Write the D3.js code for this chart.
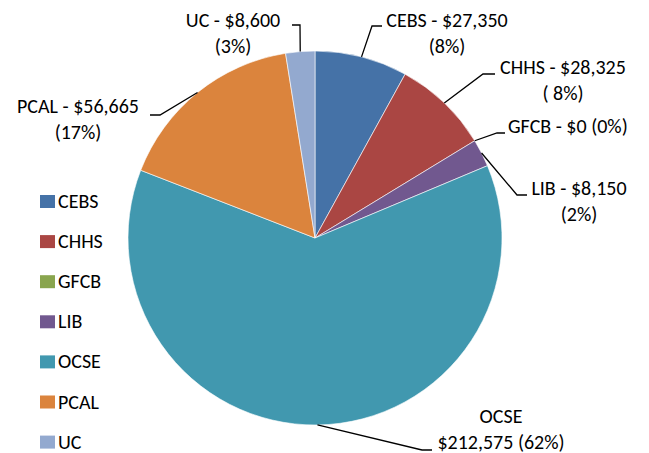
<!DOCTYPE html>
<html>
<head>
<meta charset="utf-8">
<script src="https://cdn.jsdelivr.net/npm/d3@7"></script>
<style>
  html, body { margin: 0; padding: 0; background: #fff; }
  svg text { font-family: Carlito, Calibri, "Open Sans", sans-serif; fill: #000; }
</style>
</head>
<body>
<svg id="chart" width="649" height="453"></svg>
<script>
// data
const categories = ["CEBS", "CHHS", "GFCB", "LIB", "OCSE", "PCAL", "UC"];
const amounts = [27350, 28325, 0, 8150, 212575, 56665, 8600];
const colors = ["#4572A7", "#AA4643", "#89A54E", "#71588F", "#4198AF", "#DB843D", "#93A9CF"];

// label placement (moved by hand in the original chart)
// x/y = text anchor of first line, ex/ey = leader end, elbow = x of bend
const labelLayout = [
  { x: 447, y: 27, ex: 382, ey: 26, elbow: 372, mode: "dash" },
  { x: 563, y: 74, ex: 495, ey: 74, elbow: 483, mode: "dash", pad: " " },
  { x: 508, y: 133, ex: 505, ey: 133, elbow: 497, mode: "one", anchor: "start" },
  { x: 579, y: 195, ex: 527, ey: 195, elbow: 517, mode: "dash" },
  { x: 501, y: 423, ex: 432, ey: 450, elbow: 422, mode: "name" },
  { x: 78, y: 113, ex: 150, ey: 115, elbow: 160, mode: "dash" },
  { x: 233, y: 27, ex: 292, ey: 25, elbow: 300, mode: "dash" }
];

const cx = 315, cy = 238, radius = 187;
const fontSize = 20, lineGap = 26;

const svg = d3.select("#chart");
const data = categories.map((c, i) => ({ name: c, value: amounts[i], color: colors[i], layout: labelLayout[i] }));
const total = d3.sum(amounts);
const money = d3.format(",");

const pie = d3.pie().value(d => d.value).sort(null);
const arc = d3.arc().innerRadius(0).outerRadius(radius);
const edge = d3.arc().innerRadius(radius).outerRadius(radius);

const g = svg.append("g").attr("transform", `translate(${cx},${cy})`);
const arcs = pie(data);

g.selectAll("path.slice")
  .data(arcs.filter(d => d.data.value > 0))
  .join("path")
  .attr("class", "slice")
  .attr("d", arc)
  .attr("fill", d => d.data.color)
  .attr("stroke", "#fff")
  .attr("stroke-width", 0.6);

// leader lines
svg.selectAll("path.leader")
  .data(arcs)
  .join("path")
  .attr("class", "leader")
  .attr("fill", "none")
  .attr("stroke", "#000")
  .attr("stroke-width", 1.3)
  .attr("d", d => {
    const mid = (d.startAngle + d.endAngle) / 2;
    const p = edge.centroid({ startAngle: mid, endAngle: mid });
    const L = d.data.layout;
    return d3.line()([[cx + p[0], cy + p[1]], [L.elbow, L.ey], [L.ex, L.ey]]);
  });

// data labels
const labels = svg.selectAll("text.dlabel")
  .data(arcs)
  .join("text")
  .attr("class", "dlabel")
  .style("font-size", fontSize + "px")
  .attr("text-anchor", d => d.data.layout.anchor || "middle");

labels.each(function(d) {
  const L = d.data.layout;
  const pct = "(" + (L.pad || "") + Math.round(d.data.value / total * 100) + "%)";
  const val = "$" + money(d.data.value);
  let lines;
  if (L.mode === "one") lines = [`${d.data.name} - ${val} ${pct}`];
  else if (L.mode === "name") lines = [d.data.name, `${val} ${pct}`];
  else lines = [`${d.data.name} - ${val}`, pct];
  d3.select(this).selectAll("tspan")
    .data(lines)
    .join("tspan")
    .attr("x", L.x)
    .attr("y", (t, i) => L.y + i * lineGap)
    .text(t => t);
});

// legend
const legend = svg.append("g").attr("transform", "translate(40,195)");
const items = legend.selectAll("g")
  .data(data)
  .join("g")
  .attr("transform", (d, i) => `translate(0,${i * 40.1})`);
items.append("rect")
  .attr("width", 15)
  .attr("height", 13)
  .attr("fill", d => d.color);
items.append("text")
  .attr("x", 18)
  .attr("y", 13)
  .style("font-size", fontSize + "px")
  .text(d => d.name);
</script>
</body>
</html>
